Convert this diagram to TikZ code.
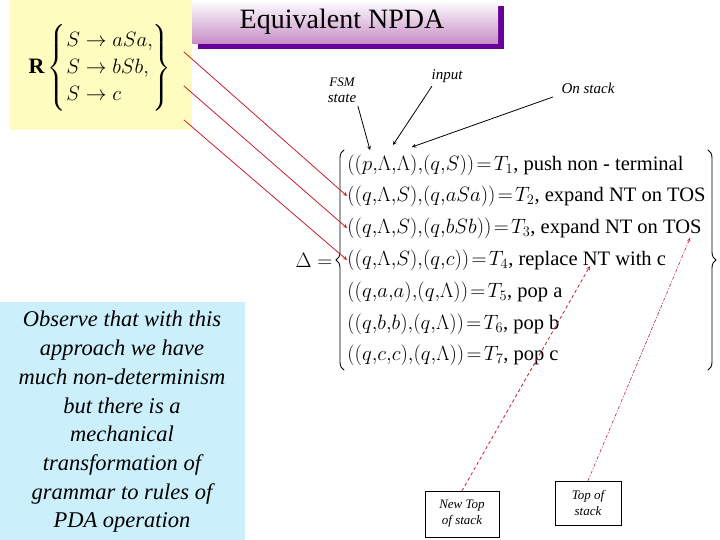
\documentclass[tikz,border=0pt]{standalone}
\usepackage{fontspec}
\setmainfont{Liberation Serif}
\usepackage{amsmath}
\usetikzlibrary{decorations.pathreplacing}
\definecolor{rred}{RGB}{200,30,50}
\newcommand{\cm}{{,}}
\begin{document}
\begin{tikzpicture}[%
        x = 1pt, y = -1pt,
        line width = 0.8pt,
        line cap = round,
        row/.style = {anchor = west, font = \fontsize{20.5}{22}\selectfont, inner sep = 0pt},
        lbl/.style = {font = \fontsize{15}{16}\selectfont\itshape, align = center},
        tip/.style = {draw = black, line width = 0.5pt, fill = white,
            font = \fontsize{13}{16}\selectfont\itshape, align = center},
        brc/.style = {decorate, decoration = {brace, amplitude = 8pt}, line width = 0.9pt}
    ]
        % Page frame.
        \useasboundingbox (0, 0) rectangle (720, 540);

        % Grammar box and title.
        \fill[yellow!25] (10, 0) rectangle (192, 130);
        \node (R) at (100, 68) {\fontsize{22}{27}\selectfont
            $\mathbf{R}\left\{\begin{array}{@{}l@{}}S\to aSa,\\ S\to bSb,\\ S\to c\end{array}\right\}$};
        \fill[violet!80!blue] (198, 6) rectangle (504, 49);
        \shade[top color = white, bottom color = violet!45] (192, 0) rectangle (498, 44);
        \node (title) at (342, 22) {\fontsize{28}{30}\selectfont Equivalent NPDA};

        % Observation box.
        \fill[cyan!20] (0, 302) rectangle (245, 540);
        \node[align = center, font = \fontsize{22.5}{28.7}\selectfont\itshape] (obs) at (122, 422)
            {Observe that with this\\ approach we have\\ much non-determinism\\
             but there is a\\ mechanical\\ transformation of\\ grammar to rules of\\ PDA operation};

        % The transition relation.
        \node[font = \fontsize{20}{20}\selectfont] (delta) at (314, 260) {$\Delta =$};
        \draw[brc] (344, 370) -- (344, 150);
        \draw[brc] (708, 150) -- (708, 370);
        \node[row] (t1) at (347, 165) {$((p\cm\Lambda\cm\Lambda)\cm(q\cm S))\!=\!T_1$, push non - terminal};
        \node[row] (t2) at (347, 196) {$((q\cm\Lambda\cm S)\cm(q\cm aSa))\!=\!T_2$, expand NT on TOS};
        \node[row] (t3) at (347, 228) {$((q\cm\Lambda\cm S)\cm(q\cm bSb))\!=\!T_3$, expand NT on TOS};
        \node[row] (t4) at (347, 260) {$((q\cm\Lambda\cm S)\cm(q\cm c))\!=\!T_4$, replace NT with c};
        \node[row] (t5) at (347, 292) {$((q\cm a\cm a)\cm(q\cm\Lambda))\!=\!T_5$, pop a};
        \node[row] (t6) at (347, 324) {$((q\cm b\cm b)\cm(q\cm\Lambda))\!=\!T_6$, pop b};
        \node[row] (t7) at (347, 355) {$((q\cm c\cm c)\cm(q\cm\Lambda))\!=\!T_7$, pop c};

        % Labels over the first rule.
        \node[lbl] (fsm) at (342, 90) {\fontsize{13}{18}\selectfont FSM\\ state};
        \node[lbl] (inp) at (447, 76) {input};
        \node[lbl] (stk) at (588, 88) {On stack};
        \coordinate (fsmE) at (370, 150);
        \coordinate (inpE) at (393, 145);
        \coordinate (stkE) at (412, 147);
        \draw[->, >=stealth] (fsm.south east) ++(-2, 0) -- (fsmE);
        \draw[->, >=stealth] (inp.south west) ++(4, 0) -- (inpE);
        \draw[->, >=stealth] (stk.south west) ++(-5, 0) -- (stkE);

        % Rules to transitions.
        \coordinate (g1) at (184, 52);
        \coordinate (g2) at (184, 86);
        \coordinate (g3) at (184, 120);
        \draw[rred, ->, >=stealth] (g1) -- (t2.west);
        \draw[rred, ->, >=stealth] (g2) -- (t3.west);
        \draw[rred, ->, >=stealth] (g3) -- (t4.west);

        % Callouts.
        \node[tip, minimum width = 74pt, minimum height = 46pt] (newtop) at (462, 514) {New Top\\ of stack};
        \node[tip, minimum width = 66pt, minimum height = 44pt] (top) at (588, 503) {Top of\\ stack};
        \coordinate (nt) at (590, 266);
        \coordinate (tos) at (690, 238);
        \draw[rred, dashed, ->, >=stealth] (newtop.north) -- (nt);
        \draw[rred, dash dot, line width = 0.6pt, ->, >=stealth] (top.north) -- (tos);
    \end{tikzpicture}
\end{document}
